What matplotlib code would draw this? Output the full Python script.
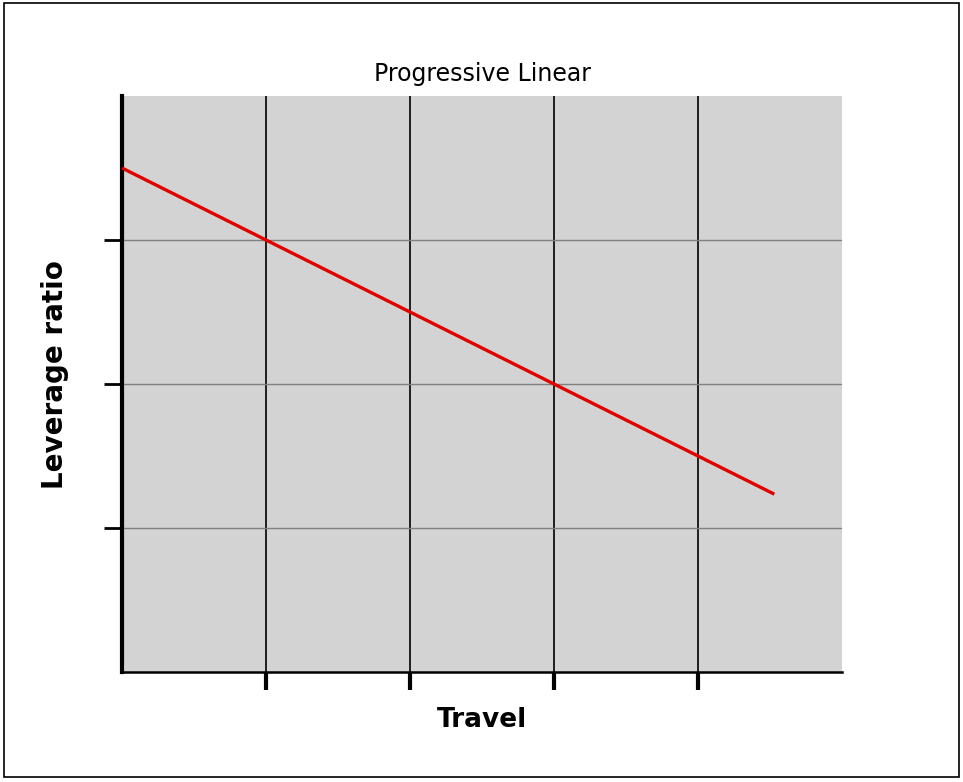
import matplotlib
matplotlib.use("Agg")
import matplotlib.pyplot as plt
from matplotlib.patches import Rectangle

travel = [0, 1, 2, 3, 4, 4.53]
leverage = [3.5, 3.0, 2.5, 2.0, 1.5, 1.235]
x_ticks = [1, 2, 3, 4]
y_ticks = [1, 2, 3]

W, H = 963, 782
fig = plt.figure(figsize=(W / 100, H / 100), dpi=100)
fig.patch.set_facecolor("white")
fig.patches.append(Rectangle((4 / W, 5 / H), 955 / W, 774 / H, transform=fig.transFigure,
                             fill=False, edgecolor="black", linewidth=1.2))

ax = fig.add_axes([122 / W, 110 / H, 720 / W, 576 / H])
ax.set_facecolor("#d3d3d3")
ax.set_xlim(0, 5)
ax.set_ylim(0, 4)
ax.set_xticks(x_ticks)
ax.set_yticks(y_ticks)
ax.set_xticklabels([])
ax.set_yticklabels([])
for x in x_ticks:
    ax.axvline(x, color="black", linewidth=1.2, zorder=1)
for y in y_ticks:
    ax.axhline(y, color="#808080", linewidth=1.0, zorder=1)
ax.plot(travel, leverage, color="#e00000", linewidth=2.4, zorder=3, solid_capstyle="butt")

ax.spines["top"].set_visible(False)
ax.spines["right"].set_visible(False)
ax.spines["left"].set_linewidth(3)
ax.spines["bottom"].set_linewidth(1.8)
ax.tick_params(axis="x", direction="out", length=13, width=3, color="black")
ax.tick_params(axis="y", direction="out", length=13, width=2, color="black")

ax.set_title("Progressive Linear", fontsize=17, pad=11)
ax.set_xlabel("Travel", fontsize=19, fontweight="bold", labelpad=9)
ax.set_ylabel("Leverage ratio", fontsize=20, fontweight="bold")
ax.yaxis.set_label_coords(-0.073, 0.516)

fig.savefig("out.png", dpi=100)
